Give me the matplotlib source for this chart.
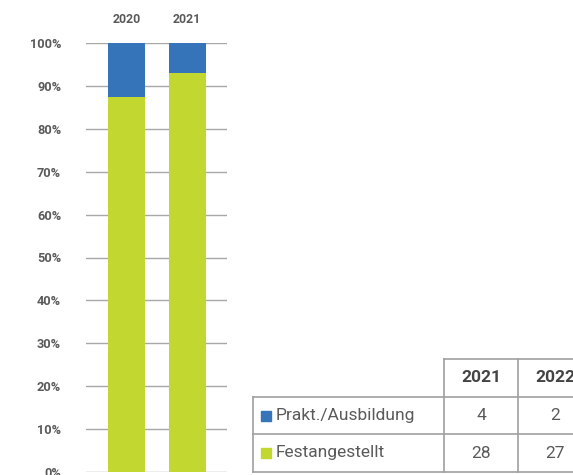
import numpy as np
import matplotlib.pyplot as plt
from matplotlib.lines import Line2D
from matplotlib.patches import Rectangle

# data
chart_years = ['2020', '2021']
table_years = ['2021', '2022']
series = ['Prakt./Ausbildung', 'Festangestellt']
prakt = np.array([4, 2])
fest = np.array([28, 27])
colors = {'Prakt./Ausbildung': '#3574b9', 'Festangestellt': '#c2d72f'}

total = prakt + fest
fest_share = fest / total
prakt_share = prakt / total

W, H = 573, 475
fig = plt.figure(figsize=(W / 100, H / 100), dpi=100)
plt.rcParams['font.family'] = ['Roboto', 'DejaVu Sans']
txt_c = '#5a5a5a'


def fx(px):
    return px / W


def fy(py):
    return 1 - py / H


# chart axes: x 86..227, y 0% at 472, 100% at 43
ax = fig.add_axes([fx(86), fy(472), fx(227) - fx(86), fy(43) - fy(472)])
x = np.arange(len(chart_years))
ax.bar(x, fest_share, width=0.61, color=colors['Festangestellt'], zorder=3)
ax.bar(x, prakt_share, width=0.61, bottom=fest_share,
       color=colors['Prakt./Ausbildung'], zorder=3)
ax.set_xlim(-0.67, 1.66)
ax.set_ylim(0, 1)
ax.set_yticks(np.arange(0, 1.01, 0.1))
ax.set_yticklabels([f'{int(round(v * 100))}%' for v in np.arange(0, 1.01, 0.1)],
                   fontsize=9.2, color=txt_c, fontweight='bold')
ax.tick_params(axis='y', length=0, pad=18)
ax.set_xticks([])
ax.grid(axis='y', color='#a8a8a8', linewidth=1, zorder=0)
for s in ax.spines.values():
    s.set_visible(False)
for xi, yr in zip(x, chart_years):
    ax.text(xi, 1.0 + 23 / 429, yr, ha='center', va='center', fontsize=8.8,
            color=txt_c, fontweight='bold', transform=ax.transData, clip_on=False)

# table drawn in figure pixels
line_c = '#a0a0a0'
col_x = [253, 444, 518, 593]
row_y = [359, 397, 434, 472]


def hline(x0, x1, y):
    fig.add_artist(Line2D([fx(x0), fx(x1)], [fy(y), fy(y)], color=line_c, lw=1.2))


def vline(xp, y0, y1):
    fig.add_artist(Line2D([fx(xp), fx(xp)], [fy(y0), fy(y1)], color=line_c, lw=1.2))


hline(col_x[1], col_x[3], row_y[0])
for yv in row_y[1:]:
    hline(col_x[0], col_x[3], yv)
vline(col_x[0], row_y[1], row_y[3])
for xv in col_x[1:]:
    vline(xv, row_y[0], row_y[3])

for j, yr in enumerate(table_years):
    cx = (col_x[j + 1] + col_x[j + 2]) / 2
    fig.text(fx(cx), fy((row_y[0] + row_y[1]) / 2), yr, ha='center', va='center',
             fontsize=12.5, color='#444444', fontweight='bold')

values = [prakt, fest]
for i, name in enumerate(series):
    cy = (row_y[i + 1] + row_y[i + 2]) / 2
    fig.add_artist(Rectangle((fx(261), fy(cy + 5)), fx(10), 10 / H,
                             color=colors[name], transform=fig.transFigure))
    fig.text(fx(276), fy(cy), name, ha='left', va='center', fontsize=12.5, color=txt_c)
    for j, v in enumerate(values[i]):
        cx = (col_x[j + 1] + col_x[j + 2]) / 2
        fig.text(fx(cx), fy(cy), str(v), ha='center', va='center',
                 fontsize=12.5, color=txt_c)

fig.savefig('out.png', dpi=100)
